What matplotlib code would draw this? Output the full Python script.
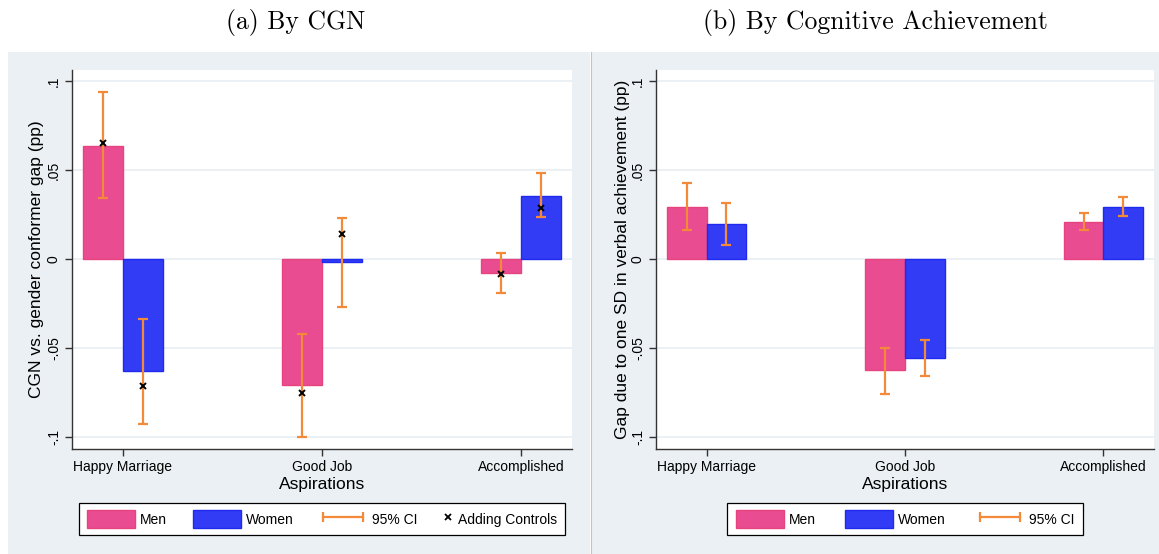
import matplotlib
matplotlib.use('Agg')
import matplotlib.pyplot as plt
import numpy as np
from matplotlib.patches import Patch, Rectangle
from matplotlib.lines import Line2D
from matplotlib.legend_handler import HandlerLine2D, HandlerPatch

plt.rcParams['font.family'] = ['Liberation Sans', 'DejaVu Sans']

categories = ['Happy Marriage', 'Good Job', 'Accomplished']
ytick_vals = [-0.1, -0.05, 0, 0.05, 0.1]
ytick_labels = ['-.1', '-.05', '0', '.05', '.1']

# (a) by CGN
cgn_men = [0.0637, -0.0708, -0.0077]
cgn_women = [-0.0629, -0.0017, 0.0356]
cgn_men_lo = [0.0341, -0.1002, -0.0189]
cgn_men_hi = [0.0937, -0.0420, 0.0032]
cgn_women_lo = [-0.0925, -0.0268, 0.0234]
cgn_women_hi = [-0.0337, 0.0229, 0.0485]
cgn_men_ctrl = [0.0650, -0.0751, -0.0084]
cgn_women_ctrl = [-0.0713, 0.0140, 0.0285]

# (b) by cognitive achievement
cog_men = [0.0294, -0.0626, 0.0209]
cog_women = [0.0198, -0.0555, 0.0290]
cog_men_lo = [0.0165, -0.0757, 0.0161]
cog_men_hi = [0.0425, -0.0500, 0.0258]
cog_women_lo = [0.0079, -0.0656, 0.0243]
cog_women_hi = [0.0317, -0.0453, 0.0346]

MEN = '#EA4C91'
MEN_EDGE = '#E6437F'
WOMEN = '#323CF5'
WOMEN_EDGE = '#1F2AEF'
CI = '#F28A3A'
BG = '#EAF0F3'
GRID = '#E6EEF1'


class ShortMarkerHandler(HandlerLine2D):
    """Legend handler with a narrow handle box (just the marker)."""
    def legend_artist(self, legend, orig_handle, fontsize, handlebox):
        handlebox.width = 0.7 * fontsize
        return super().legend_artist(legend, orig_handle, fontsize, handlebox)


def tall_patch(legend, orig_handle, xdescent, ydescent, width, height, fontsize):
    cy = -ydescent + height / 2
    return Rectangle((-xdescent, cy - 0.66 * fontsize), width, 1.32 * fontsize)


W, H = 1159, 554
fig = plt.figure(figsize=(W / 100, H / 100), dpi=100)

# grey panel backgrounds
fig.add_artist(Rectangle((8 / W, 0), (590 - 8) / W, (H - 52) / H,
                         transform=fig.transFigure, facecolor=BG, edgecolor='none', zorder=-5))
fig.add_artist(Rectangle((591 / W, 0), (W - 591) / W, (H - 52) / H,
                         transform=fig.transFigure, facecolor=BG, edgecolor='none', zorder=-5))
fig.add_artist(Line2D([590.5 / W] * 2, [0, (H - 52) / H], transform=fig.transFigure,
                      color='#BFC4C7', lw=0.8, zorder=-4))

ax1 = fig.add_axes([72 / W, (H - 449) / H, 500 / W, 379 / H])
ax2 = fig.add_axes([656 / W, (H - 449) / H, 498 / W, 379 / H])

x = np.arange(len(categories))
bw = 0.2


def draw_panel(ax, men, women, men_lo, men_hi, women_lo, women_hi, ylabel):
    ax.set_facecolor('white')
    for v in ytick_vals:
        ax.axhline(v, color=GRID, lw=1.2, zorder=0)
    ax.bar(x - bw / 2, men, bw, color=MEN, edgecolor=MEN_EDGE, lw=1, zorder=2)
    ax.bar(x + bw / 2, women, bw, color=WOMEN, edgecolor=WOMEN_EDGE, lw=1, zorder=2)
    for xs, lo, hi in [(x - bw / 2, men_lo, men_hi), (x + bw / 2, women_lo, women_hi)]:
        lo = np.array(lo)
        hi = np.array(hi)
        ax.errorbar(xs, (lo + hi) / 2, yerr=(hi - lo) / 2, fmt='none', ecolor=CI,
                    elinewidth=1.6, capsize=3.8, capthick=1.6, zorder=3)
    ax.set_xlim(-0.255, 2.255)
    ax.set_ylim(-0.1067, 0.1062)
    ax.set_xticks(x)
    ax.set_xticklabels(categories, fontsize=10)
    ax.set_yticks(ytick_vals)
    ax.set_yticklabels(ytick_labels, fontsize=10, rotation=90, va='center')
    ax.tick_params(axis='both', length=5, width=1, color='#333333', pad=3)
    for s in ['top', 'right']:
        ax.spines[s].set_visible(False)
    for s in ['left', 'bottom']:
        ax.spines[s].set_color('#333333')
        ax.spines[s].set_linewidth(1)
    ax.set_xlabel('Aspirations', fontsize=12.5, labelpad=2)
    ax.set_ylabel(ylabel, fontsize=12.5)


draw_panel(ax1, cgn_men, cgn_women, cgn_men_lo, cgn_men_hi, cgn_women_lo, cgn_women_hi,
           'CGN vs. gender conformer gap (pp)')
ax1.plot(x - bw / 2, cgn_men_ctrl, 'x', color='black', ms=5, mew=1.4, zorder=4)
ax1.plot(x + bw / 2, cgn_women_ctrl, 'x', color='black', ms=5, mew=1.4, zorder=4)
ax1.yaxis.set_label_coords(-0.055, 0.5)

draw_panel(ax2, cog_men, cog_women, cog_men_lo, cog_men_hi, cog_women_lo, cog_women_hi,
           'Gap due to one SD in verbal achievement (pp)')
ax2.yaxis.set_label_coords(-0.052, 0.5)

# legends
men_h = Patch(facecolor=MEN, edgecolor=MEN_EDGE, lw=1)
women_h = Patch(facecolor=WOMEN, edgecolor=WOMEN_EDGE, lw=1)
ci_h = Line2D([], [], color=CI, lw=1.6, marker='|', ms=7, mew=1.6)
ctrl_h = Line2D([], [], color='black', ls='none', marker='x', ms=4.5, mew=1.3)
patch_handler = HandlerPatch(patch_func=tall_patch)

leg_kw = dict(loc='upper center', bbox_to_anchor=(0.5, -0.1425), borderaxespad=0,
              fontsize=10, handlelength=3.45, handleheight=1.3, handletextpad=0.36,
              borderpad=0.6, numpoints=2, fancybox=False,
              edgecolor='black', framealpha=1)
lg1 = ax1.legend([men_h, women_h, ci_h, ctrl_h], ['Men', 'Women', '95% CI', 'Adding Controls'],
                 ncol=4, columnspacing=1.85,
                 handler_map={ctrl_h: ShortMarkerHandler(numpoints=1),
                              men_h: patch_handler, women_h: patch_handler}, **leg_kw)
lg1.get_frame().set_linewidth(0.9)
lg2 = ax2.legend([men_h, women_h, ci_h], ['Men', 'Women', '95% CI'], ncol=3,
                 columnspacing=2.15,
                 handler_map={men_h: patch_handler, women_h: patch_handler}, **leg_kw)
lg2.get_frame().set_linewidth(0.9)

# panel titles
fig.text(296 / W, 1 - 23 / H, '(a) By CGN', ha='center', va='center',
         fontsize=18.5, family='cmr10')
fig.text(875 / W, 1 - 23 / H, '(b) By Cognitive Achievement', ha='center', va='center',
         fontsize=18.5, family='cmr10')

fig.savefig('out.png', dpi=100)
